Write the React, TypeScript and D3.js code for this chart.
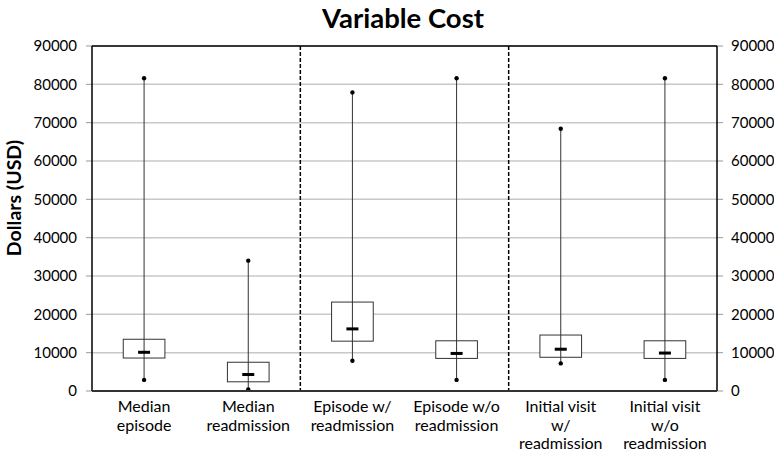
import * as d3 from "d3";
import React from "react";

const width = 774;
const height = 451;
const margin = { top: 46, right: 57, bottom: 60, left: 92 };

// category labels, one entry per line
const categories = [
  ["Median", "episode"],
  ["Median", "readmission"],
  ["Episode w/", "readmission"],
  ["Episode w/o", "readmission"],
  ["Initial visit", "w/", "readmission"],
  ["Initial visit", "w/o", "readmission"],
];
const minValues = [2900, 400, 7900, 2900, 7200, 2900];
const q1Values = [8600, 2400, 13000, 8500, 8800, 8500];
const medianValues = [10100, 4300, 16200, 9800, 10900, 9900];
const q3Values = [13500, 7500, 23200, 13100, 14600, 13100];
const maxValues = [81600, 34000, 77900, 81600, 68400, 81600];
const yTicks = [0, 10000, 20000, 30000, 40000, 50000, 60000, 70000, 80000, 90000];
// dashed separators after these category indexes
const separators = [1, 3];

const font = "Lato, 'Open Sans', sans-serif";

const App = () => {
  const ids = categories.map((_, i) => String(i));
  const xScale = d3
    .scaleBand()
    .domain(ids)
    .range([margin.left, width - margin.right]);
  const yScale = d3
    .scaleLinear()
    .domain([0, 90000])
    .range([height - margin.bottom, margin.top]);

  const bw = xScale.bandwidth();
  const boxW = bw * 0.4;
  const left = margin.left;
  const right = width - margin.right;
  const top = margin.top;
  const bottom = height - margin.bottom;

  return (
    <svg width={width} height={height} style={{ position: "absolute", left: 0, top: 0 }}>
      <rect width={width} height={height} fill="#fff" />
      <text x={403} y={28} textAnchor="middle" fontFamily={font} fontWeight="bold" fontSize={27.5}>
        Variable Cost
      </text>
      <text
        transform={`translate(21, 198) rotate(-90)`}
        textAnchor="middle"
        fontFamily={font}
        fontWeight="bold"
        fontSize={19.5}
      >
        Dollars (USD)
      </text>

      {/* grid + ticks */}
      {yTicks.map((t) => (
        <g key={t}>
          <line x1={left} x2={right} y1={yScale(t)} y2={yScale(t)} stroke="#c8c8c8" strokeWidth={1.5} />
          <line x1={left - 6} x2={left} y1={yScale(t)} y2={yScale(t)} stroke="#999" />
          <line x1={right} x2={right + 6} y1={yScale(t)} y2={yScale(t)} stroke="#999" />
          <text x={77} y={yScale(t)} dy="0.35em" textAnchor="end" fontFamily={font} fontSize={15}>
            {t}
          </text>
          <text x={731} y={yScale(t)} dy="0.35em" textAnchor="start" fontFamily={font} fontSize={15}>
            {t}
          </text>
        </g>
      ))}

      {/* frame */}
      <line x1={left} x2={right} y1={top} y2={top} stroke="#000" strokeWidth={1.5} />
      <line x1={left} x2={left} y1={top} y2={bottom} stroke="#000" strokeWidth={1.5} />
      <line x1={right} x2={right} y1={top} y2={bottom} stroke="#000" strokeWidth={1.5} />

      {separators.map((i) => {
        const x = (xScale(String(i)) as number) + bw;
        return (
          <line key={i} x1={x} x2={x} y1={top} y2={bottom} stroke="#000" strokeWidth={1.5} strokeDasharray="4,2" />
        );
      })}

      {/* boxes */}
      {ids.map((id, i) => {
        const cx = (xScale(id) as number) + bw / 2;
        return (
          <g key={id}>
            <rect
              x={cx - boxW / 2}
              y={yScale(q3Values[i])}
              width={boxW}
              height={yScale(q1Values[i]) - yScale(q3Values[i])}
              fill="#fff"
              stroke="#333"
              strokeWidth={1}
            />
            <line x1={cx} x2={cx} y1={yScale(minValues[i])} y2={yScale(maxValues[i])} stroke="#333" strokeWidth={1} />
            <rect x={cx - 6} y={yScale(medianValues[i]) - 1.5} width={12} height={3} fill="#000" />
            <circle cx={cx} cy={yScale(minValues[i])} r={2.2} fill="#000" />
            <circle cx={cx} cy={yScale(maxValues[i])} r={2.2} fill="#000" />
          </g>
        );
      })}

      <line x1={left} x2={right} y1={bottom} y2={bottom} stroke="#333" strokeWidth={2} />

      {/* category labels */}
      {ids.map((id, i) => {
        const cx = (xScale(id) as number) + bw / 2;
        return (
          <text key={id} textAnchor="middle" fontFamily={font} fontSize={16}>
            {categories[i].map((line, j) => (
              <tspan key={j} x={cx} y={412 + j * 18.5}>
                {line}
              </tspan>
            ))}
          </text>
        );
      })}
    </svg>
  );
};

export default App;
